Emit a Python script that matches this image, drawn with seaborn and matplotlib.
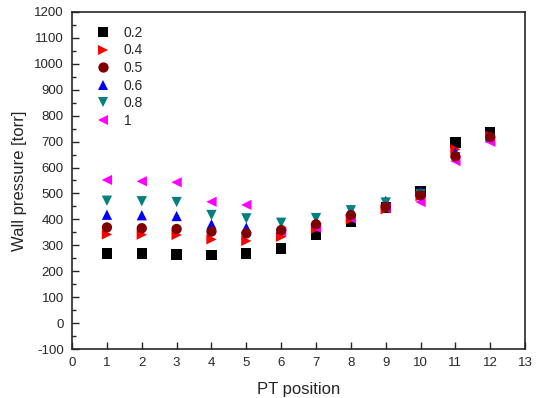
import numpy as np
import pandas as pd
import matplotlib
matplotlib.use("Agg")
import matplotlib.pyplot as plt
import seaborn as sns
from matplotlib.ticker import MultipleLocator

positions = [1, 2, 3, 4, 5, 6, 7, 8, 9, 10, 11, 12]
p_02 = [268, 269, 265, 263, 268, 288, 339, 392, 446, 507, 696, 735]
p_04 = [342, 341, 340, 323, 317, 333, 364, 400, 439, 490, 670, 722]
p_05 = [369, 366, 363, 353, 346, 359, 381, 416, 448, 493, 643, 718]
p_06 = [418, 416, 413, 381, 368, 364, 387, 437, 471, 508, 658, 717]
p_08 = [472, 470, 467, 417, 404, 387, 405, 435, 465, 497, 640, 710]
p_1 = [552, 547, 543, 468, 456, 353, 368, 404, 443, 467, 625, 699]

labels = ["0.2", "0.4", "0.5", "0.6", "0.8", "1"]
series = [p_02, p_04, p_05, p_06, p_08, p_1]
colors = ["#000000", "#ff0000", "#800000", "#0000ff", "#008080", "#ff00ff"]
markers = ["s", ">", "o", "^", "v", "<"]
# circles sit on top of the others in the original
draw_order = ["0.2", "0.4", "0.6", "0.8", "1", "0.5"]

data = dict(zip(labels, series))
rows = []
for lab in draw_order:
    for x, v in zip(positions, data[lab]):
        rows.append({"PT position": x, "Wall pressure [torr]": v, "ratio": lab})
df = pd.DataFrame(rows)

sns.set_style("ticks")
plt.rcParams["font.family"] = ["Liberation Sans", "DejaVu Sans"]
plt.rcParams["axes.unicode_minus"] = False

fig = plt.figure(figsize=(5.38, 3.98), dpi=100)
ax = fig.add_axes([0.134, 0.123, 0.842, 0.847])

sns.scatterplot(data=df, x="PT position", y="Wall pressure [torr]",
                hue="ratio", style="ratio", hue_order=labels, style_order=labels,
                palette=dict(zip(labels, colors)), markers=dict(zip(labels, markers)),
                s=55, edgecolor="none", linewidth=0, ax=ax)

ax.set_xlim(0, 13)
ax.set_ylim(-100, 1200)
ax.xaxis.set_major_locator(MultipleLocator(1))
ax.yaxis.set_major_locator(MultipleLocator(100))
ax.yaxis.set_minor_locator(MultipleLocator(50))
ax.tick_params(axis="both", which="both", direction="in", labelsize=9.5, pad=6)
ax.tick_params(axis="both", which="major", length=5, width=1)
ax.tick_params(axis="y", which="minor", length=3, width=1)
for sp in ax.spines.values():
    sp.set_visible(True)
    sp.set_linewidth(1.2)
ax.set_xlabel("PT position", fontsize=12, labelpad=9)
ax.set_ylabel("Wall pressure [torr]", fontsize=12, labelpad=5)

leg = ax.legend(loc="upper left", frameon=False, fontsize=10, title=None,
                handletextpad=0.5, labelspacing=0.26, borderaxespad=0.6,
                bbox_to_anchor=(0.007, 1.0))

fig.savefig("out.png", dpi=100)
